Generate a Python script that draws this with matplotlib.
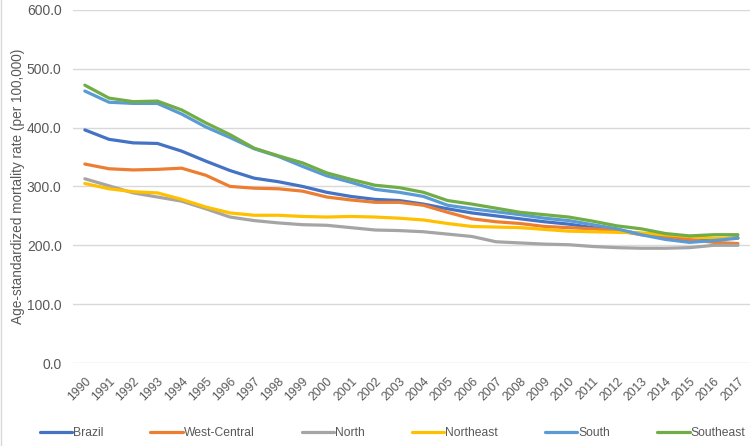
import numpy as np
import matplotlib.pyplot as plt
from matplotlib.lines import Line2D

plt.rcParams['font.family'] = ['Liberation Sans Narrow', 'Liberation Sans', 'DejaVu Sans']

years = [str(y) for y in range(1990, 2018)]

brazil = [396, 380, 374, 373, 360, 343, 327, 314, 308, 300, 290, 283, 278, 276, 270, 262,
          255, 250, 245, 240, 236, 230, 225, 220, 213, 208, 210, 213]
west_central = [338, 330, 328, 329, 331, 319, 300, 297, 296, 292, 282, 277, 273, 273, 268, 256,
                245, 240, 237, 232, 230, 228, 225, 218, 215, 210, 205, 203]
north = [313, 301, 289, 282, 275, 262, 248, 242, 238, 235, 234, 230, 226, 225, 223, 219,
         215, 206, 204, 202, 201, 198, 196, 195, 195, 196, 200, 200]
northeast = [305, 296, 291, 289, 278, 265, 255, 251, 251, 249, 248, 249, 248, 246, 243, 237,
             232, 231, 230, 227, 224, 223, 222, 221, 218, 215, 212, 212]
south = [462, 443, 441, 441, 423, 401, 383, 364, 351, 334, 318, 307, 295, 290, 283, 268,
         262, 257, 252, 246, 242, 235, 228, 218, 210, 205, 208, 212]
southeast = [472, 450, 444, 445, 430, 408, 388, 365, 352, 340, 323, 312, 302, 298, 290, 276,
             270, 263, 256, 252, 248, 241, 233, 228, 220, 216, 218, 218]

series = [('Brazil', brazil, '#4472C4'),
          ('West-Central', west_central, '#ED7D31'),
          ('North', north, '#A5A5A5'),
          ('Northeast', northeast, '#FFC000'),
          ('South', south, '#5B9BD5'),
          ('Southeast', southeast, '#70AD47')]

fig = plt.figure(figsize=(7.5, 4.46), dpi=100)
ax = fig.add_axes([0.097, 0.186, 0.903, 0.792])

x = np.arange(len(years))
for name, vals, col in series:
    ax.plot(x, vals, color=col, lw=2.3, label=name, solid_capstyle='round')

ax.set_xlim(-0.5, len(years) - 0.5)
ax.set_ylim(0, 600)
ax.set_yticks(np.arange(0, 601, 100))
ax.set_yticklabels(['%.1f' % v for v in np.arange(0, 601, 100)])
ax.set_xticks(x)
ax.set_xticklabels(years, rotation=45, ha='right', rotation_mode='anchor')
ax.tick_params(axis='y', length=0, colors='#595959', labelsize=10, pad=8)
ax.tick_params(axis='x', length=0, colors='#595959', labelsize=8.8, pad=9)
ax.grid(axis='y', color='#D9D9D9', lw=1)
ax.set_axisbelow(True)
for s in ax.spines.values():
    s.set_visible(False)
ax.set_ylabel('Age-standardized mortality rate (per 100,000)', color='#595959', fontsize=9.8, labelpad=1)

fig.legend(loc='center left', bbox_to_anchor=(0.053, 0.029), ncol=6, frameon=False,
           fontsize=8.7, handlelength=2.7, handletextpad=0.05, columnspacing=3.9,
           borderpad=0, borderaxespad=0, labelcolor='#595959')

# thin chart border on the left edge
fig.add_artist(Line2D([0.001, 0.001], [0, 1], color='#D9D9D9', lw=1, transform=fig.transFigure))

fig.savefig('out.png', dpi=100)
